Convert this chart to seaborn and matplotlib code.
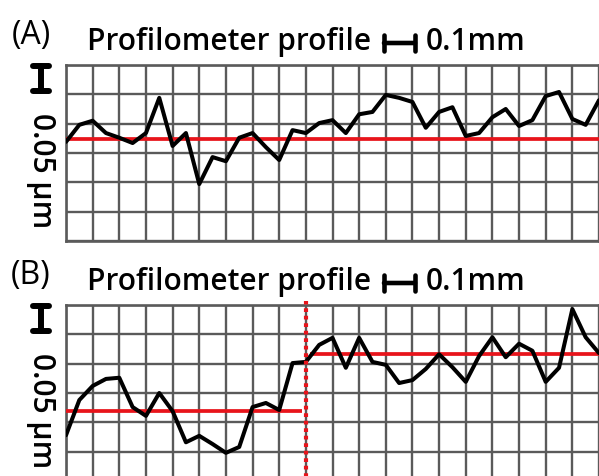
import numpy as np
import pandas as pd
import matplotlib
matplotlib.use("Agg")
import matplotlib.pyplot as plt
import seaborn as sns

# ---------------- data ----------------
distance_mm = [0.00, 0.05, 0.10, 0.15, 0.20, 0.25, 0.30, 0.35, 0.40, 0.45,
               0.50, 0.55, 0.60, 0.65, 0.70, 0.75, 0.80, 0.85, 0.90, 0.95,
               1.00, 1.05, 1.10, 1.15, 1.20, 1.25, 1.30, 1.35, 1.40, 1.45,
               1.50, 1.55, 1.60, 1.65, 1.70, 1.75, 1.80, 1.85, 1.90, 1.95, 2.00]

height_a_um = [0.169, 0.198, 0.205, 0.184, 0.176, 0.167, 0.184, 0.244, 0.162, 0.184,
               0.097, 0.143, 0.136, 0.176, 0.184, 0.160, 0.138, 0.189, 0.184, 0.201,
               0.206, 0.184, 0.216, 0.220, 0.249, 0.244, 0.237, 0.193, 0.220, 0.228,
               0.179, 0.184, 0.211, 0.225, 0.196, 0.206, 0.247, 0.254, 0.208, 0.198, 0.240]

height_b_um = [0.078, 0.138, 0.162, 0.174, 0.176, 0.126, 0.111, 0.150, 0.119, 0.066,
               0.077, 0.063, 0.048, 0.058, 0.126, 0.133, 0.121, 0.201, 0.203, 0.232,
               0.244, 0.193, 0.244, 0.203, 0.198, 0.167, 0.172, 0.191, 0.216, 0.194,
               0.169, 0.213, 0.245, 0.211, 0.234, 0.222, 0.169, 0.193, 0.293, 0.245, 0.218]

mean_a_um = 0.174
mean_b_left_um = 0.119
mean_b_right_um = 0.216
step_position_mm = 0.90
left_segment_end_mm = 0.884
right_segment_start_mm = 0.916

panel_labels = ["(A)", "(B)"]
title_text = "Profilometer profile"
x_scale_text = "0.1mm"
y_scale_text = "0.05 μm"

# ---------------- layout ----------------
W, H = 599, 476
sns.set_style("white")
plt.rcParams["font.family"] = ["Open Sans", "DejaVu Sans"]

fig = plt.figure(figsize=(W / 100, H / 100), dpi=100)

GRID = "#5a5a5a"
RED = "#e8141b"
FS = 21.5
FW = "semibold"

def fx(px):
    return px / W

def fy(py):
    return 1 - py / H

x_ticks = np.round(np.arange(0, 2.0001, 0.1), 2)
y_ticks = np.round(np.arange(0, 0.3001, 0.05), 2)

heights = [height_a_um, height_b_um]
tops = [65, 305]

for i, (top, h) in enumerate(zip(tops, heights)):
    ax = fig.add_axes([fx(66), fy(top + 176), 533 / W, 176 / H])
    df = pd.DataFrame({"distance_mm": distance_mm, "height_um": h})
    sns.lineplot(data=df, x="distance_mm", y="height_um", ax=ax,
                 color="black", lw=2.9, zorder=5)
    ax.set_xlim(0, 2.0)
    ax.set_ylim(0, 0.30)
    ax.set_xticks(x_ticks)
    ax.set_yticks(y_ticks)
    ax.set_axisbelow(True)
    ax.grid(True, color=GRID, lw=1.7)
    ax.tick_params(length=0, labelbottom=False, labelleft=False)
    ax.set_xlabel("")
    ax.set_ylabel("")
    for s in ax.spines.values():
        s.set_color(GRID)
        s.set_linewidth(1.9)

    if i == 0:
        ax.axhline(mean_a_um, color=RED, lw=2.7, zorder=4)
    else:
        ax.hlines(mean_b_left_um, 0, left_segment_end_mm, color=RED, lw=2.7, zorder=4)
        ax.hlines(mean_b_right_um, right_segment_start_mm, 2.0, color=RED, lw=2.7, zorder=4)
        ax.axvline(step_position_mm, ymin=0, ymax=1.02, color=RED, lw=3.0,
                   ls=(0, (0.9, 0.9)), zorder=6, clip_on=False)

    off = top - 65
    # panel label
    fig.text(fx(31), fy(44 + off), panel_labels[i], fontsize=23, ha="center",
             va="baseline", color="black")
    # title
    fig.text(fx(87), fy(50 + off), title_text, fontsize=FS, fontweight=FW,
             ha="left", va="baseline", color="black")
    # horizontal scale bar
    fig.add_artist(matplotlib.patches.FancyArrowPatch(
        (384, H - (43 + off)), (415, H - (43 + off)), transform=None,
        arrowstyle="|-|,widthA=0.4,widthB=0.4", mutation_scale=14,
        lw=3.3, color="black", shrinkA=0, shrinkB=0))
    fig.text(fx(426), fy(50 + off), x_scale_text, fontsize=FS, fontweight=FW,
             ha="left", va="baseline", color="black")
    # vertical scale bar
    fig.add_artist(matplotlib.patches.FancyArrowPatch(
        (41, H - (66 + off)), (41, H - (91 + off)), transform=None,
        arrowstyle="|-|,widthA=0.42,widthB=0.42", mutation_scale=14,
        lw=4.3, color="black", shrinkA=0, shrinkB=0))
    fig.text(fx(33), fy(171 + off), y_scale_text, fontsize=FS, fontweight=FW,
             ha="center", va="baseline", rotation=270, rotation_mode="anchor",
             color="black")

fig.savefig("out.png", dpi=100)
